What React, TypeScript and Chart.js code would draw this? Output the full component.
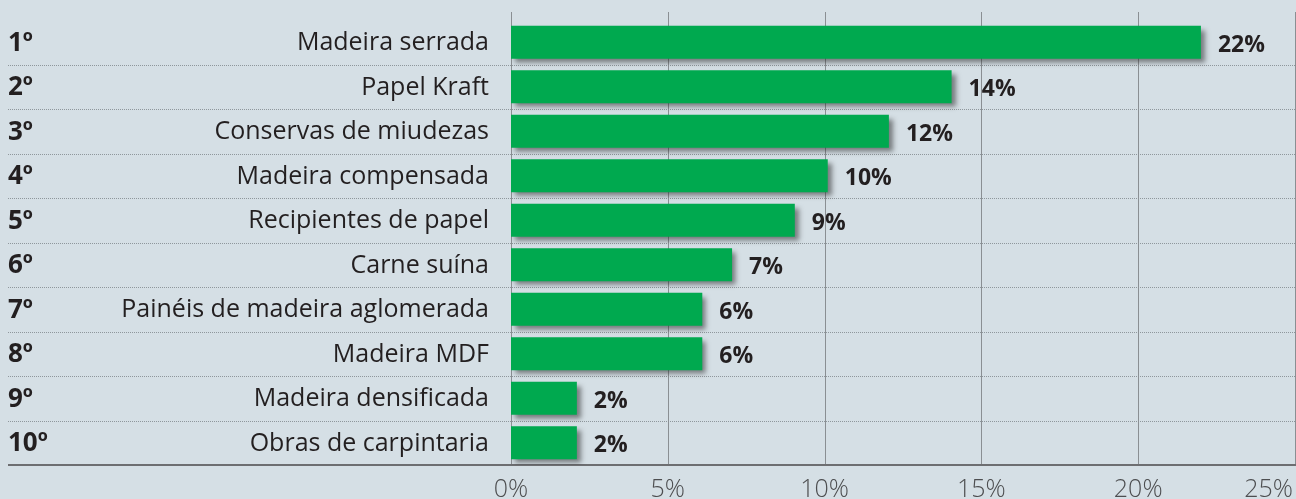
import React, { useEffect, useRef } from "react";
import { Chart, registerables } from "chart.js";

Chart.register(...registerables);

const ranks = ["1º", "2º", "3º", "4º", "5º", "6º", "7º", "8º", "9º", "10º"];
const categories = [
  "Madeira serrada",
  "Papel Kraft",
  "Conservas de miudezas",
  "Madeira compensada",
  "Recipientes de papel",
  "Carne suína",
  "Painéis de madeira aglomerada",
  "Madeira MDF",
  "Madeira densificada",
  "Obras de carpintaria",
];
const values = [22.0, 14.05, 12.05, 10.1, 9.05, 7.05, 6.1, 6.1, 2.1, 2.1];
const valueLabels = ["22%", "14%", "12%", "10%", "9%", "7%", "6%", "6%", "2%", "2%"];
const xTicks = [0, 5, 10, 15, 20, 25];

const FONT = "'Open Sans', 'Noto Sans', sans-serif";
const BG = "#d5dfe5";
const TEXT = "#231f20";

const decorPlugin = {
  id: "decor",
  beforeDraw(chart: any) {
    const { ctx, width, height } = chart;
    ctx.save();
    ctx.fillStyle = BG;
    ctx.fillRect(0, 0, width, height);
    ctx.restore();
  },
  beforeDatasetsDraw(chart: any) {
    const { ctx, chartArea, scales, width } = chart;
    const x = scales.x;
    const y = scales.y;
    ctx.save();
    // dotted row separators
    ctx.strokeStyle = "#8f979c";
    ctx.lineWidth = 1;
    ctx.setLineDash([1, 1]);
    for (let i = 0; i < categories.length - 1; i++) {
      const yy = Math.round((y.getPixelForValue(i) + y.getPixelForValue(i + 1)) / 2) + 0.5;
      ctx.beginPath();
      ctx.moveTo(8, yy);
      ctx.lineTo(width, yy);
      ctx.stroke();
    }
    ctx.setLineDash([]);
    // vertical gridlines
    ctx.strokeStyle = "#8a8f93";
    for (const t of xTicks) {
      const xx = Math.round(x.getPixelForValue(t)) + 0.5;
      ctx.beginPath();
      ctx.moveTo(xx, chartArea.top - 8);
      ctx.lineTo(xx, chartArea.bottom);
      ctx.stroke();
    }
    // bottom axis line
    ctx.strokeStyle = "#6d6e71";
    ctx.lineWidth = 2;
    ctx.beginPath();
    ctx.moveTo(8, chartArea.bottom);
    ctx.lineTo(width, chartArea.bottom);
    ctx.stroke();
    // x tick labels
    ctx.fillStyle = "#4d4e50";
    ctx.font = `300 25px ${FONT}`;
    ctx.textBaseline = "middle";
    xTicks.forEach((t, i) => {
      const xx = x.getPixelForValue(t);
      const last = i === xTicks.length - 1;
      ctx.textAlign = last ? "right" : "center";
      ctx.fillText(`${t}%`, last ? width - 3 : xx, chartArea.bottom + 25);
    });
    // ranks
    ctx.fillStyle = TEXT;
    ctx.font = `bold 26px ${FONT}`;
    ctx.textAlign = "left";
    ranks.forEach((r, i) => {
      ctx.fillText(r, 8, y.getPixelForValue(i) + 1);
    });
    // category names
    ctx.font = `25px ${FONT}`;
    ctx.textAlign = "right";
    categories.forEach((c, i) => {
      ctx.fillText(c, chartArea.left - 22, y.getPixelForValue(i) + 1);
    });
    ctx.restore();
    // shadow for bars
    ctx.save();
    ctx.shadowColor = "rgba(40,40,40,0.55)";
    ctx.shadowBlur = 5;
    ctx.shadowOffsetX = 4;
    ctx.shadowOffsetY = 4;
  },
  afterDatasetsDraw(chart: any) {
    const { ctx } = chart;
    ctx.restore();
    ctx.save();
    ctx.fillStyle = TEXT;
    ctx.font = `bold 23px ${FONT}`;
    ctx.textAlign = "left";
    ctx.textBaseline = "middle";
    const meta = chart.getDatasetMeta(0);
    meta.data.forEach((bar: any, i: number) => {
      ctx.fillText(valueLabels[i], bar.x + 17, bar.y + 3);
    });
    ctx.restore();
  },
};

export default function App() {
  const ref = useRef<HTMLCanvasElement | null>(null);
  useEffect(() => {
    if (!ref.current) return;
    const chart = new Chart(ref.current, {
      type: "bar",
      data: {
        labels: categories,
        datasets: [
          {
            data: values,
            backgroundColor: "#00a94f",
            borderWidth: 0,
            barPercentage: 0.74,
            categoryPercentage: 1,
          },
        ],
      },
      options: {
        indexAxis: "y",
        animation: false,
        responsive: false,
        maintainAspectRatio: false,
        layout: { padding: { top: 20, right: 1, bottom: 34, left: 0 } },
        plugins: { legend: { display: false }, tooltip: { enabled: false } },
        scales: {
          x: {
            display: false,
            min: 0,
            max: 25,
          },
          y: {
            ticks: { display: false },
            grid: { display: false, drawTicks: false },
            border: { display: false },
            afterFit(scale: any) {
              scale.width = 511;
            },
          },
        },
      },
      plugins: [decorPlugin],
    });
    return () => chart.destroy();
  }, []);
  return (
    <div style={{ position: "fixed", left: 0, top: 0, width: 1296, height: 499, background: BG }}>
      <canvas ref={ref} width={1296} height={499} style={{ display: "block" }} />
    </div>
  );
}
